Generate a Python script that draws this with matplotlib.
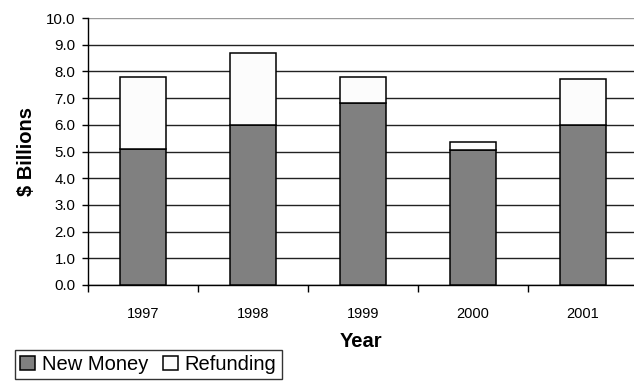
import matplotlib
matplotlib.use("Agg")
import matplotlib.pyplot as plt
import numpy as np

plt.rcParams['font.family'] = ['Liberation Sans', 'DejaVu Sans']

# values (in $ billions)
years = ["1997", "1998", "1999", "2000", "2001"]
new_money = [5.1, 6.0, 6.8, 5.05, 6.0]
refunding = [2.7, 2.7, 1.0, 0.3, 1.7]
y_ticks = [0, 1, 2, 3, 4, 5, 6, 7, 8, 9, 10]

fig = plt.figure(figsize=(6.34, 3.81), dpi=100)
ax = fig.add_axes([88 / 634, 1 - 285 / 381, 1 - 88 / 634, (285 - 18) / 381])

x = np.arange(len(years))
ax.bar(x, new_money, width=0.41, color="#808080", edgecolor="black",
       linewidth=1.1, label="New Money", zorder=3)
ax.bar(x, refunding, width=0.41, bottom=new_money, color="#fcfcfc",
       edgecolor="black", linewidth=1.1, label="Refunding", zorder=3)

ax.set_xlim(-0.5, 4.464)
ax.set_ylim(0, 10)
ax.set_yticks(y_ticks)
ax.set_yticklabels([f"{v:.1f}" for v in y_ticks])

# category labels in the middle, tick marks between the categories
ax.set_xticks(x)
ax.set_xticklabels(years)
ax.set_xticks([-0.5, 0.5, 1.5, 2.5, 3.5], minor=True)
ax.tick_params(axis="x", which="major", length=0, pad=16, labelsize=10.5)
ax.tick_params(axis="x", which="minor", length=5, width=1, direction="out")
ax.tick_params(axis="y", length=4, width=1, direction="out", pad=5, labelsize=10.8)

ax.yaxis.grid(True, color="#222222", linewidth=1.0)
ax.set_axisbelow(True)
ax.get_ygridlines()[-1].set_color("#999999")

for side in ["top", "right"]:
    ax.spines[side].set_visible(False)
ax.spines["left"].set_linewidth(1)
ax.spines["bottom"].set_linewidth(1)

ax.set_ylabel("$ Billions", fontsize=14.5, fontweight="bold", labelpad=7)
ax.set_xlabel("Year", fontsize=14.5, fontweight="bold", labelpad=8)

leg = fig.legend(loc="upper left", bbox_to_anchor=(15 / 634, 1 - 350 / 381),
                 ncol=2, fontsize=14.5, frameon=True, fancybox=False,
                 handlelength=0.75, handleheight=0.75, handletextpad=0.35,
                 columnspacing=0.7, borderpad=0.25, borderaxespad=0)
leg.get_frame().set_edgecolor("black")
leg.get_frame().set_linewidth(1)

fig.savefig("out.png", dpi=100)
